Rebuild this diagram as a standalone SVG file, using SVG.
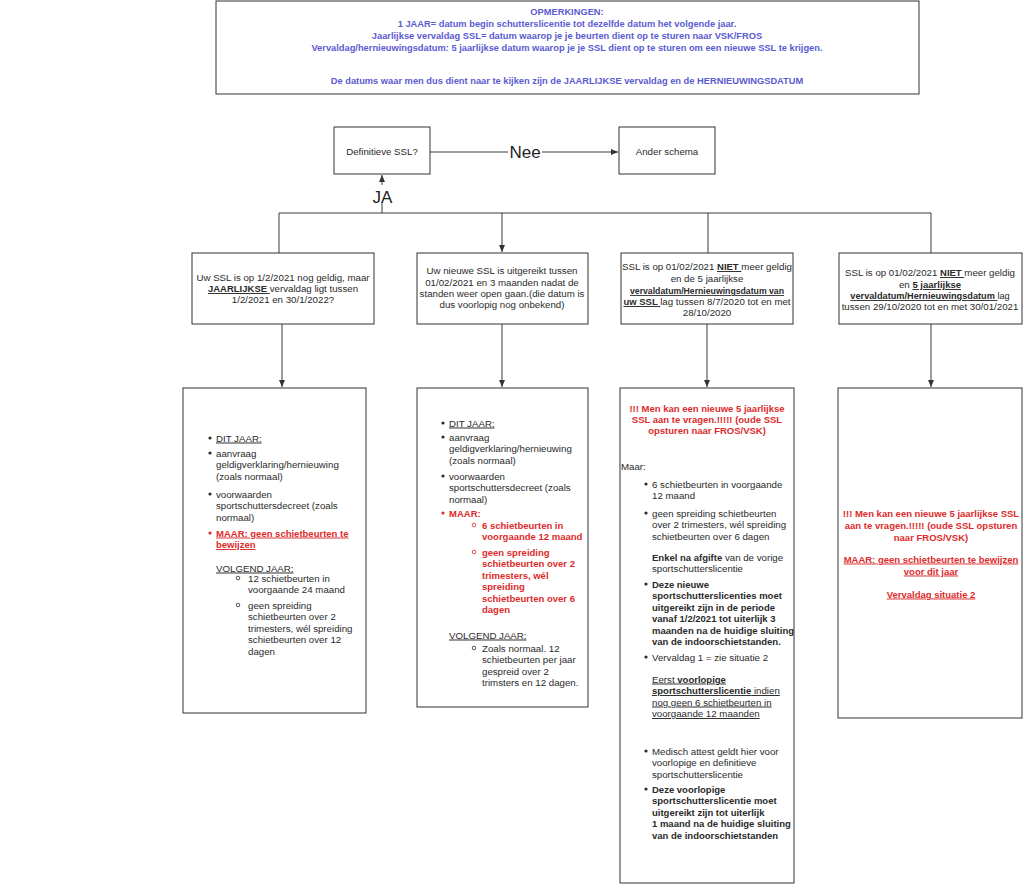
<svg xmlns="http://www.w3.org/2000/svg" width="1024" height="887" viewBox="0 0 1024 887">
<defs>
<style>
.box{fill:#fff;stroke:#333;stroke-width:1}
.t{font-family:"Liberation Sans",Arial,sans-serif;font-size:9.7px;fill:#2a2a2a}
.c{text-anchor:middle}
.b{font-weight:bold;font-size:9.5px}
.u{text-decoration:underline}
.r{fill:#dd2b2b;font-weight:bold;font-size:9.5px}
.note{font-family:"Liberation Sans",Arial,sans-serif;font-size:9.3px;font-weight:bold;fill:#5b5bd2;text-anchor:middle}
.big{font-family:"Liberation Sans",Arial,sans-serif;font-size:17px;fill:#222;text-anchor:middle}
.ln{fill:none;stroke:#3a3a3a;stroke-width:1}
.dot{fill:#2a2a2a}
.rdot{fill:#dd2b2b}
.sub{fill:none;stroke:#2a2a2a;stroke-width:0.8}
.rsub{fill:none;stroke:#dd2b2b;stroke-width:0.8}
</style>
<marker id="ah" markerWidth="8" markerHeight="8" refX="7" refY="4" orient="auto" markerUnits="userSpaceOnUse">
<path d="M0,1 L7,4 L0,7 Z" fill="#333"/>
</marker>
</defs>
<rect width="1024" height="887" fill="#fff"/>

<g id="note">
<rect class="box" x="216" y="1" width="703" height="93"/>
<text class="note" x="567" y="15">OPMERKINGEN:</text>
<text class="note" x="567" y="27">1 JAAR= datum begin schutterslicentie tot dezelfde datum het volgende jaar.</text>
<text class="note" x="567" y="39">Jaarlijkse vervaldag SSL= datum waarop je je beurten dient op te sturen naar VSK/FROS</text>
<text class="note" x="567" y="51">Vervaldag/hernieuwingsdatum: 5 jaarlijkse datum waarop je je SSL dient op te sturen om een nieuwe SSL te krijgen.</text>
<text class="note" x="567" y="84">De datums waar men dus dient naar te kijken zijn de JAARLIJKSE vervaldag en de HERNIEUWINGSDATUM</text>
</g>

<g id="connectors">
<line class="ln" x1="430" y1="152" x2="618" y2="152" marker-end="url(#ah)"/>
<rect x="508" y="142" width="34" height="20" fill="#fff"/>
<text class="big" x="525" y="158">Nee</text>
<line class="ln" x1="382" y1="213" x2="382" y2="175" marker-end="url(#ah)"/>
<rect x="371" y="185" width="23" height="18" fill="#fff"/>
<text class="big" x="382.5" y="203">JA</text>
<polyline class="ln" points="279,253 279,213 931,213 931,253"/>
<line class="ln" x1="502" y1="213" x2="502" y2="252" marker-end="url(#ah)"/>
<line class="ln" x1="708" y1="213" x2="708" y2="253"/>
<line class="ln" x1="282" y1="324" x2="282" y2="387" marker-end="url(#ah)"/>
<line class="ln" x1="502" y1="324" x2="502" y2="387" marker-end="url(#ah)"/>
<line class="ln" x1="707" y1="324" x2="707" y2="387" marker-end="url(#ah)"/>
<line class="ln" x1="931" y1="324" x2="931" y2="387" marker-end="url(#ah)"/>
</g>

<g id="definitieve">
<rect class="box" x="334" y="127" width="96" height="47"/>
<text class="t c" x="382" y="155">Definitieve SSL?</text>
</g>

<g id="ander">
<rect class="box" x="619" y="127" width="96" height="47"/>
<text class="t c" x="667" y="155">Ander schema</text>
</g>

<g id="cond1">
<rect class="box" x="192" y="253" width="182" height="71"/>
<text class="t c" x="283" y="281">Uw SSL is op 1/2/2021 nog geldig, maar</text>
<text class="t c" x="283" y="292"><tspan class="b u">JAARLIJKSE </tspan>vervaldag ligt tussen</text>
<text class="t c" x="283" y="303">1/2/2021 en 30/1/2022?</text>
</g>

<g id="cond2">
<rect class="box" x="417" y="253" width="171" height="71"/>
<text class="t c" x="502" y="274">Uw nieuwe SSL is uitgereikt tussen</text>
<text class="t c" x="502" y="286">01/02/2021 en 3 maanden nadat de</text>
<text class="t c" x="502" y="297">standen weer open gaan.(die datum is</text>
<text class="t c" x="502" y="308">dus voorlopig nog onbekend)</text>
</g>

<g id="cond3">
<rect class="box" x="621" y="253" width="172" height="71"/>
<text class="t c" x="707" y="270">SSL is op 01/02/2021 <tspan class="b u">NIET </tspan>meer geldig</text>
<text class="t c" x="707" y="282">en de 5 jaarlijkse</text>
<text class="t c u" x="707" y="294" style="font-weight:bold;font-size:8.7px">vervaldatum/Hernieuwingsdatum van</text>
<text class="t c" x="707" y="305"><tspan class="b u">uw SSL </tspan>lag tussen 8/7/2020 tot en met</text>
<text class="t c" x="707" y="316">28/10/2020</text>
</g>

<g id="cond4">
<rect class="box" x="839" y="253" width="183" height="71"/>
<text class="t c" x="930" y="276">SSL is op 01/02/2021 <tspan class="b u">NIET </tspan>meer geldig</text>
<text class="t c" x="930" y="288">en <tspan class="b u">5 jaarlijkse</tspan></text>
<text class="t c" x="930" y="299" style="font-size:9.2px"><tspan class="u" style="font-weight:bold">vervaldatum/Hernieuwingsdatum </tspan>lag</text>
<text class="t c" x="930" y="310">tussen 29/10/2020 tot en met 30/01/2021</text>
</g>

<g id="detail1">
<rect class="box" x="183" y="388" width="183" height="325"/>
<circle class="dot" cx="210" cy="438" r="1.6"/>
<text class="t u" x="216" y="441.5">DIT JAAR:</text>
<circle class="dot" cx="210" cy="453" r="1.6"/>
<text class="t" x="216" y="456.5">aanvraag</text>
<text class="t" x="216" y="468">geldigverklaring/hernieuwing</text>
<text class="t" x="216" y="479.5">(zoals normaal)</text>
<circle class="dot" cx="210" cy="494" r="1.6"/>
<text class="t" x="216" y="497.5">voorwaarden</text>
<text class="t" x="216" y="509">sportschuttersdecreet (zoals</text>
<text class="t" x="216" y="520.5">normaal)</text>
<circle class="rdot" cx="210" cy="533" r="1.6"/>
<text class="t r u" x="216" y="536.5">MAAR: geen schietbeurten te</text>
<text class="t r u" x="216" y="548">bewijzen</text>
<text class="t u" x="216" y="571.5">VOLGEND JAAR:</text>
<circle class="sub" cx="238" cy="578" r="1.8"/>
<text class="t" x="248" y="581.5">12 schietbeurten in</text>
<text class="t" x="248" y="593">voorgaande 24 maand</text>
<circle class="sub" cx="238" cy="605" r="1.8"/>
<text class="t" x="248" y="608.5">geen spreiding</text>
<text class="t" x="248" y="620">schietbeurten over 2</text>
<text class="t" x="248" y="631.5">trimesters, wél spreiding</text>
<text class="t" x="248" y="643">schietbeurten over 12</text>
<text class="t" x="248" y="654.5">dagen</text>
</g>

<g id="detail2">
<rect class="box" x="417" y="388" width="171" height="319"/>
<circle class="dot" cx="443" cy="423" r="1.6"/>
<text class="t u" x="449" y="426.5">DIT JAAR:</text>
<circle class="dot" cx="443" cy="437" r="1.6"/>
<text class="t" x="449" y="440.5">aanvraag</text>
<text class="t" x="449" y="452">geldigverklaring/hernieuwing</text>
<text class="t" x="449" y="463.5">(zoals normaal)</text>
<circle class="dot" cx="443" cy="476" r="1.6"/>
<text class="t" x="449" y="479.5">voorwaarden</text>
<text class="t" x="449" y="491">sportschuttersdecreet (zoals</text>
<text class="t" x="449" y="502.5">normaal)</text>
<circle class="rdot" cx="443" cy="513" r="1.6"/>
<text class="t r" x="449" y="516.5">MAAR:</text>
<circle class="rsub" cx="474" cy="525" r="1.8"/>
<text class="t r" x="482" y="528.5">6 schietbeurten in</text>
<text class="t r" x="482" y="540">voorgaande 12 maand</text>
<circle class="rsub" cx="474" cy="552" r="1.8"/>
<text class="t r" x="482" y="555.5">geen spreiding</text>
<text class="t r" x="482" y="567">schietbeurten over 2</text>
<text class="t r" x="482" y="578.5">trimesters, wél</text>
<text class="t r" x="482" y="590">spreiding</text>
<text class="t r" x="482" y="601.5">schietbeurten over 6</text>
<text class="t r" x="482" y="613">dagen</text>
<text class="t u" x="449" y="638.5">VOLGEND JAAR:</text>
<circle class="sub" cx="474" cy="648" r="1.8"/>
<text class="t" x="482" y="651.5">Zoals normaal. 12</text>
<text class="t" x="482" y="663">schietbeurten per jaar</text>
<text class="t" x="482" y="674.5">gespreid over 2</text>
<text class="t" x="482" y="686">trimsters en 12 dagen.</text>
</g>

<g id="detail3">
<rect class="box" x="620" y="388" width="174" height="495"/>
<text class="t c r" x="707" y="411.5">!!! Men kan een nieuwe 5 jaarlijkse</text>
<text class="t c r" x="707" y="422.5">SSL aan te vragen.!!!!! (oude SSL</text>
<text class="t c r" x="707" y="433.5">opsturen naar FROS/VSK)</text>
<text class="t" x="621" y="469.5">Maar:</text>
<circle class="dot" cx="646" cy="484" r="1.6"/>
<text class="t" x="652" y="487.5">6 schietbeurten in voorgaande</text>
<text class="t" x="652" y="499">12 maand</text>
<circle class="dot" cx="646" cy="513" r="1.6"/>
<text class="t" x="652" y="516.5">geen spreiding schietbeurten</text>
<text class="t" x="652" y="528">over 2 trimesters, wél spreiding</text>
<text class="t" x="652" y="539.5">schietbeurten over 6 dagen</text>
<text class="t" x="652" y="560.5"><tspan class="b">Enkel na afgifte</tspan> van de vorige</text>
<text class="t" x="652" y="572">sportschutterslicentie</text>
<circle class="dot" cx="646" cy="584" r="1.6"/>
<text class="t b" x="652" y="587.5">Deze nieuwe</text>
<text class="t b" x="652" y="599">sportschutterslicenties moet</text>
<text class="t b" x="652" y="610.5">uitgereikt zijn in de periode</text>
<text class="t b" x="652" y="622">vanaf 1/2/2021 tot uiterlijk 3</text>
<text class="t b" x="652" y="633.5">maanden na de huidige sluiting</text>
<text class="t b" x="652" y="645">van de indoorschietstanden.</text>
<circle class="dot" cx="646" cy="657" r="1.6"/>
<text class="t" x="652" y="660.5">Vervaldag 1 = zie situatie 2</text>
<text class="t u" x="652" y="682.5">Eerst <tspan class="b">voorlopige</tspan></text>
<text class="t u" x="652" y="694"><tspan class="b">sportschutterslicentie</tspan> indien</text>
<text class="t u" x="652" y="705.5">nog geen 6 schietbeurten in</text>
<text class="t u" x="652" y="717">voorgaande 12 maanden</text>
<circle class="dot" cx="646" cy="751" r="1.6"/>
<text class="t" x="652" y="754.5">Medisch attest geldt hier voor</text>
<text class="t" x="652" y="766">voorlopige en definitieve</text>
<text class="t" x="652" y="777.5">sportschutterslicentie</text>
<circle class="dot" cx="646" cy="789" r="1.6"/>
<text class="t b" x="652" y="792.5">Deze voorlopige</text>
<text class="t b" x="652" y="804">sportschutterslicentie moet</text>
<text class="t b" x="652" y="815.5">uitgereikt zijn tot uiterlijk</text>
<text class="t b" x="652" y="827">1 maand na de huidige sluiting</text>
<text class="t b" x="652" y="838.5">van de indoorschietstanden</text>
</g>

<g id="detail4">
<rect class="box" x="838" y="388" width="184" height="330"/>
<text class="t c r" x="931" y="516.5">!!! Men kan een nieuwe 5 jaarlijkse SSL</text>
<text class="t c r" x="931" y="528.5">aan te vragen.!!!!! (oude SSL opsturen</text>
<text class="t c r" x="931" y="540.5">naar FROS/VSK)</text>
<text class="t c r u" x="931" y="562.5">MAAR: geen schietbeurten te bewijzen</text>
<text class="t c r u" x="931" y="574.5">voor dit jaar</text>
<text class="t c r u" x="931" y="597.5">Vervaldag situatie 2</text>
</g>
</svg>
